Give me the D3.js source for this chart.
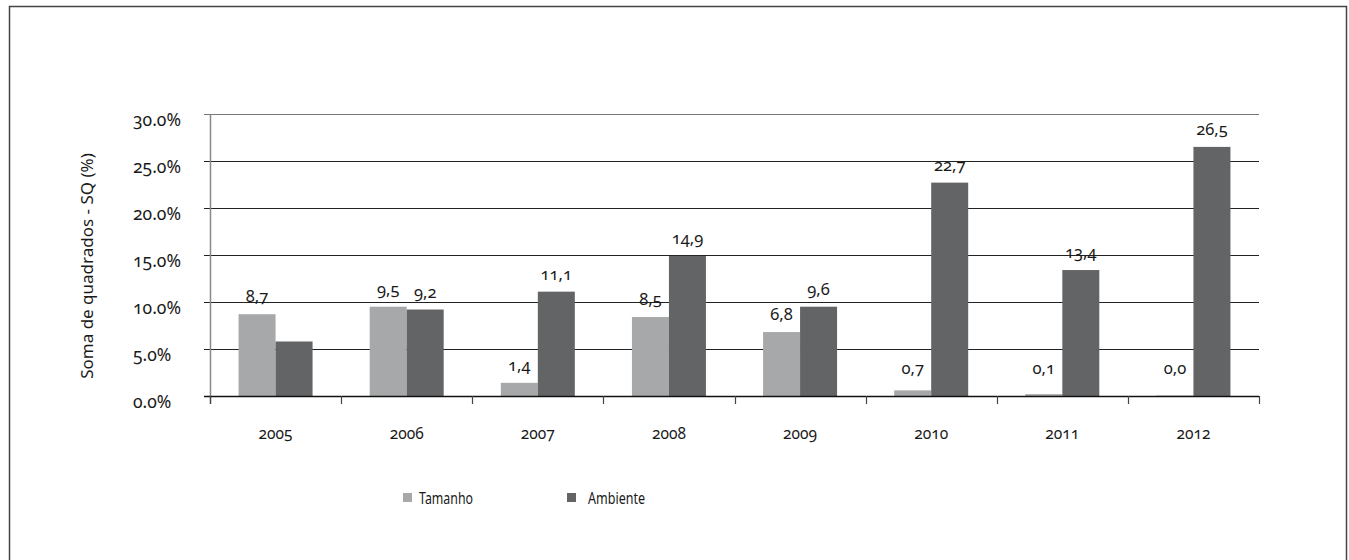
<!DOCTYPE html>
<html>
<head>
<meta charset="utf-8">
<script src="https://cdn.jsdelivr.net/npm/d3@7"></script>
<style>
  body { margin: 0; background: #fff; }
  svg text { font-family: "Noto Sans", "Open Sans", sans-serif; font-variant-numeric: oldstyle-nums; fill: #1a1a1a; }
</style>
</head>
<body>
<svg id="chart" width="1349" height="560"></svg>
<script>
// data
var years = ["2005", "2006", "2007", "2008", "2009", "2010", "2011", "2012"];
var tamanho = [8.7, 9.5, 1.4, 8.4, 6.8, 0.6, 0.2, 0.05];
var ambiente = [5.8, 9.2, 11.1, 14.9, 9.5, 22.7, 13.4, 26.5];
// printed labels (null = no label)
var tamanhoLabels = ["8,7", "9,5", "1,4", "8,5", "6,8", "0,7", "0,1", "0,0"];
var ambienteLabels = [null, "9,2", "11,1", "14,9", "9,6", "22,7", "13,4", "26,5"];
var yTicks = [0, 5, 10, 15, 20, 25, 30];
var seriesNames = ["Tamanho", "Ambiente"];
var colors = ["#a7a8aa", "#636466"];

var svg = d3.select("#chart");

// outer frame (bottom edge falls off the picture)
svg.append("rect")
    .attr("x", 9.5).attr("y", 6.5)
    .attr("width", 1337).attr("height", 600)
    .attr("fill", "none")
    .attr("stroke", "#444")
    .attr("stroke-width", 1.5);

var plotL = 210, plotR = 1259, plotT = 114, plotB = 396;

var x = d3.scaleBand().domain(years).range([plotL, plotR]);
var y = d3.scaleLinear().domain([0, 30]).range([plotB, plotT]);
var inner = d3.scaleBand().domain(seriesNames).range([0, 74]);

// gridlines + y labels
var grid = svg.append("g");
grid.selectAll("line")
    .data(yTicks)
    .enter()
    .append("line")
    .attr("x1", plotL - 6).attr("x2", plotR)
    .attr("y1", d => Math.round(y(d)) + 0.5)
    .attr("y2", d => Math.round(y(d)) + 0.5)
    .attr("stroke", d => d == 30 ? "#777" : "#222")
    .attr("stroke-width", 1.2);

grid.selectAll("text")
    .data(yTicks)
    .enter()
    .append("text")
    .attr("x", 133)
    .attr("y", d => y(d) + 12)
    .style("font-size", "17.5px")
    .text(d => d.toFixed(1) + "%");

// y axis line
svg.append("line")
    .attr("x1", plotL + 0.5).attr("x2", plotL + 0.5)
    .attr("y1", plotT).attr("y2", plotB + 8)
    .attr("stroke", "#888")
    .attr("stroke-width", 1.5);

// bars
var rows = years.map((yr, i) => ({ year: yr, values: [tamanho[i], ambiente[i]], labels: [tamanhoLabels[i], ambienteLabels[i]] }));

var groups = svg.append("g")
    .selectAll("g")
    .data(rows)
    .enter()
    .append("g")
    .attr("transform", d => "translate(" + (x(d.year) + x.bandwidth() / 2 - 37) + ",0)");

groups.selectAll("rect")
    .data(d => d.values.map((v, j) => ({ name: seriesNames[j], v: v, color: colors[j] })))
    .enter()
    .append("rect")
    .attr("x", d => inner(d.name))
    .attr("width", inner.bandwidth())
    .attr("y", d => y(d.v))
    .attr("height", d => plotB - y(d.v))
    .attr("fill", d => d.color);

groups.selectAll("text")
    .data(d => d.labels.map((l, j) => ({ name: seriesNames[j], l: l, v: d.values[j] })).filter(e => e.l))
    .enter()
    .append("text")
    .attr("x", d => inner(d.name) + inner.bandwidth() / 2)
    .attr("y", d => y(Math.max(d.v, 1.1)) - 12)
    .attr("text-anchor", "middle")
    .style("font-size", "16.5px")
    .text(d => d.l);

// x axis baseline and ticks
svg.append("line")
    .attr("x1", plotL - 6).attr("x2", plotR)
    .attr("y1", plotB + 0.5).attr("y2", plotB + 0.5)
    .attr("stroke", "#111")
    .attr("stroke-width", 1.5);

var tickXs = years.map(d => x(d)).concat([plotR]);
svg.append("g")
    .selectAll("line")
    .data(tickXs)
    .enter()
    .append("line")
    .attr("x1", d => Math.round(d) + 0.5).attr("x2", d => Math.round(d) + 0.5)
    .attr("y1", plotB).attr("y2", plotB + 8)
    .attr("stroke", "#444")
    .attr("stroke-width", 1.2);

svg.append("g")
    .selectAll("text")
    .data(years)
    .enter()
    .append("text")
    .attr("x", d => x(d) + x.bandwidth() / 2)
    .attr("y", 439)
    .attr("text-anchor", "middle")
    .style("font-size", "15.5px")
    .text(d => d);

// y title
svg.append("text")
    .attr("transform", "translate(93,266) rotate(-90)")
    .attr("text-anchor", "middle")
    .style("font-size", "17px")
    .style("font-variant-numeric", "normal")
    .text("Soma de quadrados - SQ (%)");

// legend (condensed lettering -> squeezed with textLength)
var legendX = [403, 567];
var legendW = [54, 57];
var legend = svg.append("g")
    .selectAll("g")
    .data(seriesNames)
    .enter()
    .append("g")
    .attr("transform", (d, i) => "translate(" + legendX[i] + ",493)");

legend.append("rect")
    .attr("width", 9).attr("height", 9)
    .attr("fill", (d, i) => colors[i]);

legend.append("text")
    .attr("x", (d, i) => i == 0 ? 16 : 21)
    .attr("y", 11)
    .attr("textLength", (d, i) => legendW[i])
    .attr("lengthAdjust", "spacingAndGlyphs")
    .style("font-size", "17px")
    .text(d => d);
</script>
</body>
</html>
